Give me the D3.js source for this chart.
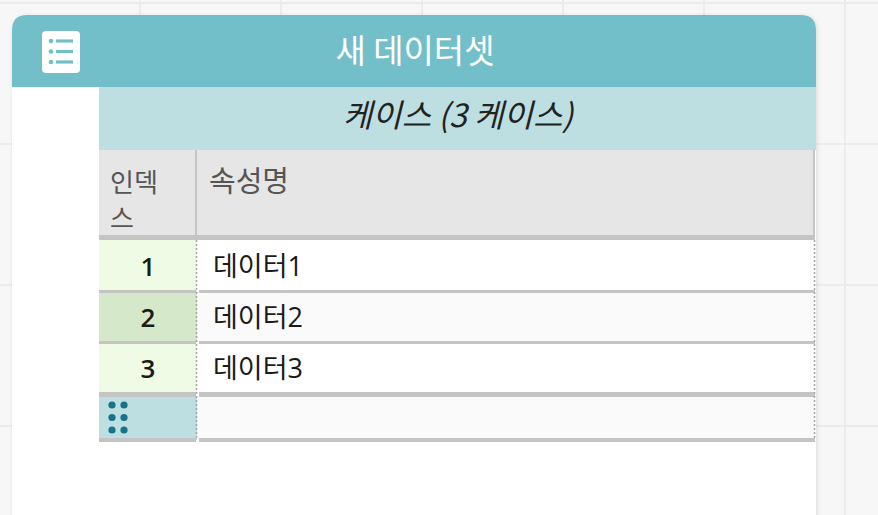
<!DOCTYPE html>
<html><head><meta charset="utf-8">
<script src="https://cdn.jsdelivr.net/npm/d3@7/dist/d3.min.js"></script>
<style>
html,body{margin:0;padding:0;background:#f7f7f7;overflow:hidden}
svg{display:block}
</style></head>
<body>
<script>
// ---- data ----
const datasetTitle = "새 데이터셋";
const collectionName = "케이스";
const caseUnit = "케이스";
const columnLabels = ["인덱스", "속성명"];
const indexLabels = ["1", "2", "3"];
const attributeValues = ["데이터1", "데이터2", "데이터3"];
const selectedIndex = "2";

const W = 878, H = 515;
const FONT = "'Noto Sans CJK KR', 'Noto Sans', sans-serif";
const FONT_MIX = "'Open Sans', 'Noto Sans CJK KR', sans-serif";
const svg = d3.select("body").append("svg").attr("width", W).attr("height", H);

// background grid
const bg = svg.append("g");
bg.append("rect").attr("width", W).attr("height", H).attr("fill", "#f7f7f7");
const gridX = d3.range(-1, 7).map(i => 140 + i * 141);
const gridY = d3.range(0, 4).map(i => 3 + i * 141);
bg.selectAll("line.gx").data(gridX).join("line")
  .attr("x1", d => d).attr("x2", d => d).attr("y1", 0).attr("y2", H)
  .attr("stroke", "#ececec").attr("stroke-width", 2);
bg.selectAll("line.gy").data(gridY).join("line")
  .attr("y1", d => d).attr("y2", d => d).attr("x1", 0).attr("x2", W)
  .attr("stroke", "#ececec").attr("stroke-width", 2);

// card geometry
const cardX = 12, cardR = 816, cardTop = 15, headerB = 87;
const tableX = 99, colSplit = 197;

const defs = svg.append("defs");
const f = defs.append("filter").attr("id", "sh").attr("x", "-5%").attr("y", "-5%").attr("width", "110%").attr("height", "110%");
f.append("feDropShadow").attr("dx", 1).attr("dy", 1).attr("stdDeviation", 2).attr("flood-color", "#000").attr("flood-opacity", 0.12);

const card = svg.append("g");
const rr = 15;
card.append("path")
  .attr("d", `M${cardX},${H + 20} V${cardTop + rr} Q${cardX},${cardTop} ${cardX + rr},${cardTop} H${cardR - rr} Q${cardR},${cardTop} ${cardR},${cardTop + rr} V${H + 20} Z`)
  .attr("fill", "#ffffff").attr("filter", "url(#sh)");
// title bar
card.append("path")
  .attr("d", `M${cardX},${headerB} V${cardTop + rr} Q${cardX},${cardTop} ${cardX + rr},${cardTop} H${cardR - rr} Q${cardR},${cardTop} ${cardR},${cardTop + rr} V${headerB} Z`)
  .attr("fill", "#72bfca");
card.append("text").attr("x", 415).attr("y", 63).attr("text-anchor", "middle")
  .attr("font-family", FONT).attr("font-size", 33).attr("fill", "#ffffff").text(datasetTitle);

// icon
const ic = card.append("g").attr("transform", "translate(42,31)");
ic.append("rect").attr("width", 38).attr("height", 42).attr("rx", 4).attr("fill", "#ffffff");
const iconRows = [10, 20.5, 31];
ic.selectAll("circle").data(iconRows).join("circle").attr("cx", 9).attr("cy", d => d).attr("r", 2.3).attr("fill", "#72bfca");
ic.selectAll("line").data(iconRows).join("line").attr("x1", 14).attr("x2", 31).attr("y1", d => d).attr("y2", d => d)
  .attr("stroke", "#72bfca").attr("stroke-width", 3.2);

// collection header
card.append("rect").attr("x", tableX).attr("y", headerB).attr("width", cardR - tableX).attr("height", 150 - headerB).attr("fill", "#bedfe1");
card.append("text").attr("x", 458).attr("y", 127).attr("text-anchor", "middle")
  .attr("font-family", FONT).attr("font-size", 32).attr("font-style", "italic").attr("fill", "#222")
  .text(`${collectionName} (${indexLabels.length} ${caseUnit})`);

// column header
card.append("rect").attr("x", tableX).attr("y", 150).attr("width", cardR - tableX - 1).attr("height", 87).attr("fill", "#e6e6e6");
card.append("line").attr("x1", 196).attr("x2", 196).attr("y1", 150).attr("y2", 237).attr("stroke", "#c4c4c4").attr("stroke-width", 2);
card.append("line").attr("x1", cardR - 2).attr("x2", cardR - 2).attr("y1", 150).attr("y2", 237).attr("stroke", "#c4c4c4").attr("stroke-width", 2);
card.append("text").attr("x", 110).attr("y", 192).attr("font-family", FONT).attr("font-size", 26).attr("fill", "#555")
  .text(columnLabels[0].slice(0, 2));
card.append("text").attr("x", 110).attr("y", 228).attr("font-family", FONT).attr("font-size", 26).attr("fill", "#555")
  .text(columnLabels[0].slice(2));
card.append("text").attr("x", 209).attr("y", 192).attr("font-family", FONT).attr("font-size", 29).attr("fill", "#555").text(columnLabels[1]);
card.append("rect").attr("x", tableX).attr("y", 235).attr("width", cardR - tableX - 1).attr("height", 5).attr("fill", "#c4c4c4");

// rows
const y = d3.scaleBand().domain(indexLabels).range([240, 393]).paddingInner(0);
const rows = card.selectAll("g.row").data(indexLabels.map((d, i) => ({ idx: d, val: attributeValues[i], i })))
  .join("g").attr("class", "row").attr("transform", d => `translate(0,${y(d.idx)})`);
rows.append("rect").attr("x", tableX).attr("width", colSplit - tableX).attr("height", y.bandwidth())
  .attr("fill", d => d.idx === selectedIndex ? "#d5e8c9" : "#f0fbe6");
rows.append("rect").attr("x", colSplit).attr("width", cardR - colSplit - 1).attr("height", y.bandwidth())
  .attr("fill", d => d.i % 2 ? "#fafafa" : "#ffffff");
rows.filter(d => d.i > 0).append("rect").attr("x", tableX).attr("y", -1).attr("width", colSplit - tableX - 1).attr("height", 3).attr("fill", "#c4c4c4");
rows.filter(d => d.i > 0).append("rect").attr("x", colSplit + 2).attr("y", -1).attr("width", cardR - colSplit - 3).attr("height", 3).attr("fill", "#c4c4c4");
rows.append("text").attr("x", 148).attr("y", y.bandwidth() / 2 + 10).attr("text-anchor", "middle")
  .attr("font-family", FONT_MIX).attr("font-size", 26).attr("font-weight", 600).attr("fill", "#1a1a1a").text(d => d.idx);
rows.append("text").attr("x", 213).attr("y", y.bandwidth() / 2 + 10)
  .attr("font-family", FONT_MIX).attr("font-size", 27).attr("fill", "#1a1a1a").text(d => d.val);

// drag row
const dragTop = y.range()[1];
card.append("rect").attr("x", tableX).attr("y", dragTop + 3).attr("width", colSplit - tableX).attr("height", 44).attr("fill", "#bddfe2");
card.append("rect").attr("x", colSplit).attr("y", dragTop + 3).attr("width", cardR - colSplit - 1).attr("height", 44).attr("fill", "#fafafa");
card.append("rect").attr("x", tableX).attr("y", dragTop - 1).attr("width", colSplit - tableX - 1).attr("height", 5).attr("fill", "#c4c4c4");
card.append("rect").attr("x", colSplit + 2).attr("y", dragTop - 1).attr("width", cardR - colSplit - 3).attr("height", 5).attr("fill", "#c4c4c4");
card.append("rect").attr("x", tableX).attr("y", dragTop + 45).attr("width", colSplit - tableX - 1).attr("height", 4).attr("fill", "#c4c4c4");
card.append("rect").attr("x", colSplit + 2).attr("y", dragTop + 45).attr("width", cardR - colSplit - 3).attr("height", 4).attr("fill", "#c4c4c4");
const dots = [];
[0, 1].forEach(c => [0, 1, 2].forEach(r => dots.push({ c, r })));
card.selectAll("circle.dot").data(dots).join("circle").attr("class", "dot")
  .attr("cx", d => 112 + d.c * 12).attr("cy", d => dragTop + 12 + d.r * 12.5).attr("r", 3.6).attr("fill", "#17728a");

// dotted column separators
[colSplit - 0.5, cardR - 1.5].forEach(x => {
  card.append("line").attr("x1", x).attr("x2", x).attr("y1", 240).attr("y2", dragTop + 47)
    .attr("stroke", "#a8a8a8").attr("stroke-width", 1.6).attr("stroke-dasharray", "2,2");
});
</script>
</body></html>
